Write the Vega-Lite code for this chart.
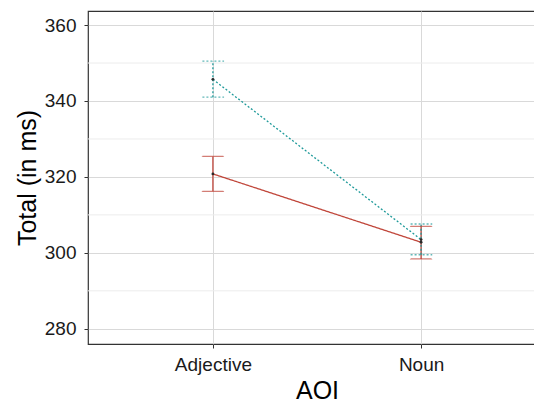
{
  "$schema": "https://vega.github.io/schema/vega-lite/v6.json",
  "autosize": "none",
  "padding": {"left": 88, "top": 11, "right": 0, "bottom": 59},
  "width": 458,
  "height": 333,
  "config": {
    "font": "Liberation Sans",
    "view": {"stroke": "#333333", "strokeWidth": 1.2},
    "axis": {
      "gridColor": "#d9d9d9",
      "gridWidth": 1,
      "domain": false,
      "tickColor": "#333333",
      "tickSize": 4,
      "labelColor": "#1a1a1a",
      "titleColor": "#000000",
      "titleFontWeight": "normal",
      "labelFont": "Liberation Sans",
      "titleFont": "Liberation Sans"
    }
  },
  "datasets": {
    "means": [
      {"AOI": "Adjective", "group": "g1", "mean": 320.8, "lo": 316.2, "hi": 325.4},
      {"AOI": "Noun", "group": "g1", "mean": 302.8, "lo": 298.4, "hi": 307.0},
      {"AOI": "Adjective", "group": "g2", "mean": 345.7, "lo": 341.0, "hi": 350.5},
      {"AOI": "Noun", "group": "g2", "mean": 303.5, "lo": 299.5, "hi": 307.6}
    ],
    "minor": [{"v": 290}, {"v": 310}, {"v": 330}, {"v": 350}]
  },
  "layer": [
    {
      "data": {"name": "minor"},
      "mark": {"type": "rule", "color": "#ececec", "strokeWidth": 1},
      "encoding": {"y": {"field": "v", "type": "quantitative", "scale": {"domain": [276, 363.7], "nice": false, "zero": false}}}
    },
    {
      "data": {"name": "means"},
      "mark": {"type": "rule", "strokeWidth": 1.3},
      "encoding": {
        "x": {"field": "AOI", "type": "nominal", "scale": {"type": "point", "padding": 0.6}, "sort": ["Adjective", "Noun"],
              "axis": {"title": "AOI", "labelAngle": 0, "labelFontSize": 19, "labelPadding": 7, "titleFontSize": 25, "titlePadding": 4, "grid": true}},
        "y": {"field": "lo", "type": "quantitative", "scale": {"domain": [276, 363.7], "nice": false, "zero": false},
              "axis": {"title": "Total (in ms)", "values": [280, 300, 320, 340, 360], "labelFontSize": 19, "labelPadding": 8, "titleFontSize": 25, "titlePadding": 4, "grid": true}},
        "y2": {"field": "hi"},
        "color": {"field": "group", "type": "nominal", "scale": {"domain": ["g1", "g2"], "range": ["#c0463a", "#1f9a9a"]}, "legend": null},
        "strokeDash": {"field": "group", "type": "nominal", "scale": {"domain": ["g1", "g2"], "range": [[1, 0], [2, 2]]}, "legend": null}
      }
    },
    {
      "data": {"name": "means"},
      "mark": {"type": "tick", "filled": false, "thickness": 0.01, "size": 21, "strokeWidth": 1.3, "orient": "horizontal"},
      "encoding": {
        "x": {"field": "AOI", "type": "nominal", "sort": ["Adjective", "Noun"]},
        "y": {"field": "lo", "type": "quantitative"},
        "color": {"field": "group", "type": "nominal", "legend": null},
        "strokeDash": {"field": "group", "type": "nominal", "legend": null}
      }
    },
    {
      "data": {"name": "means"},
      "mark": {"type": "tick", "filled": false, "thickness": 0.01, "size": 21, "strokeWidth": 1.3, "orient": "horizontal"},
      "encoding": {
        "x": {"field": "AOI", "type": "nominal", "sort": ["Adjective", "Noun"]},
        "y": {"field": "hi", "type": "quantitative"},
        "color": {"field": "group", "type": "nominal", "legend": null},
        "strokeDash": {"field": "group", "type": "nominal", "legend": null}
      }
    },
    {
      "data": {"name": "means"},
      "mark": {"type": "line", "strokeWidth": 1.3},
      "encoding": {
        "x": {"field": "AOI", "type": "nominal", "sort": ["Adjective", "Noun"]},
        "y": {"field": "mean", "type": "quantitative"},
        "color": {"field": "group", "type": "nominal", "legend": null},
        "strokeDash": {"field": "group", "type": "nominal", "legend": null}
      }
    },
    {
      "data": {"name": "means"},
      "mark": {"type": "circle", "size": 8, "color": "#2a2a2a", "opacity": 1},
      "encoding": {
        "x": {"field": "AOI", "type": "nominal", "sort": ["Adjective", "Noun"]},
        "y": {"field": "mean", "type": "quantitative"}
      }
    }
  ]
}
